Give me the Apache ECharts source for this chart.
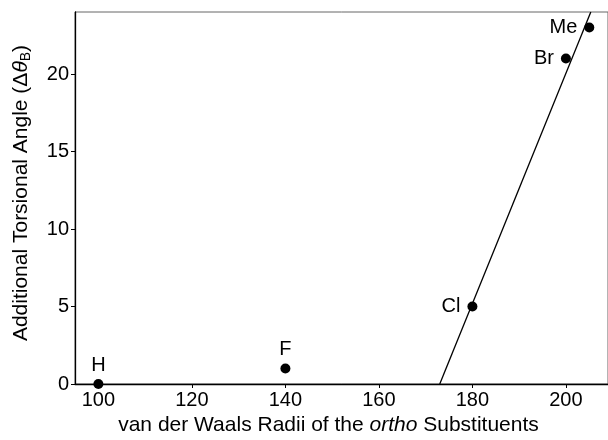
<!DOCTYPE html>
<html>
<head>
<meta charset="UTF-8">
<script src="https://cdn.jsdelivr.net/npm/echarts@6/dist/echarts.min.js"></script>
<style>
  html, body { margin: 0; background: #fff; }
  #chart { width: 608px; height: 440px; }
</style>
</head>
<body>
<div id="chart"></div>
<script>
  var names = ['H', 'F', 'Cl', 'Br', 'Me'];
  var radii = [100, 140, 180, 200, 205];
  var angles = [0, 1, 5, 21, 23];
  var labelPos = ['top', 'top', 'left', 'left', 'left'];
  var xTicks = [100, 120, 140, 160, 180, 200];
  var yTicks = [0, 5, 10, 15, 20];

  // regression through Cl, Br, Me
  var fitX = radii.slice(2), fitY = angles.slice(2);
  var mx = 0, my = 0;
  fitX.forEach(function (v, i) { mx += v; my += fitY[i]; });
  mx /= fitX.length; my /= fitY.length;
  var sxx = 0, sxy = 0;
  fitX.forEach(function (v, i) { sxx += (v - mx) * (v - mx); sxy += (v - mx) * (fitY[i] - my); });
  var slope = sxy / sxx, icpt = my - slope * mx;
  var fitLine = [[(0 - icpt) / slope, 0], [(24 - icpt) / slope, 24]];

  var font = 'Liberation Sans, Arial, sans-serif';
  var fs = 20, nfs = 21;
  var chart = echarts.init(document.getElementById('chart'));
  chart.setOption({
    animation: false,
    grid: {
      left: 75, right: 0, top: 12, bottom: 56, show: true,
      borderColor: '#666', borderWidth: 1, outerBoundsMode: 'none', containLabel: false
    },
    xAxis: {
      type: 'value', min: 95, max: 209,
      name: '{n|van der Waals Radii of the }{i|ortho}{n| Substituents}',
      nameLocation: 'middle', nameGap: 27,
      nameTextStyle: {
        fontSize: nfs, fontFamily: font, color: '#000', padding: [0, 26, 0, 0],
        rich: {
          n: { fontSize: nfs, fontFamily: font, color: '#000' },
          i: { fontSize: nfs, fontFamily: font, fontStyle: 'italic', color: '#000' }
        }
      },
      axisLine: { onZero: false, lineStyle: { color: '#000', width: 1.3 } },
      axisTick: { length: 4, lineStyle: { color: '#000' }, customValues: xTicks },
      axisLabel: { fontSize: fs, fontFamily: font, color: '#000', margin: 6, customValues: xTicks },
      splitLine: { show: false }
    },
    yAxis: {
      type: 'value', min: 0, max: 24,
      name: '{n|Additional Torsional Angle (Δ}{i|θ}{s|B}{n|)}',
      nameLocation: 'middle', nameGap: 42,
      nameTextStyle: {
        fontSize: nfs, fontFamily: font, color: '#000', padding: [0, 0, 0, 10],
        rich: {
          n: { fontSize: nfs, fontFamily: font, color: '#000' },
          i: { fontSize: nfs, fontFamily: font, fontStyle: 'italic', color: '#000' },
          s: { fontSize: 14, fontFamily: font, color: '#000', padding: [10, 0, 0, 0] }
        }
      },
      axisLine: { show: true, lineStyle: { color: '#000', width: 1.3 } },
      axisTick: { length: 4, lineStyle: { color: '#000' }, customValues: yTicks },
      axisLabel: { fontSize: fs, fontFamily: font, color: '#000', margin: 6, customValues: yTicks },
      splitLine: { show: false }
    },
    series: [
      {
        type: 'line', data: fitLine, showSymbol: false, symbol: 'none',
        lineStyle: { color: '#000', width: 1.3 }, z: 2
      },
      {
        type: 'scatter', symbolSize: 10, z: 3,
        itemStyle: { color: '#000', opacity: 1 },
        data: radii.map(function (x, i) {
          return {
            value: [x, angles[i]],
            label: {
              show: true, formatter: names[i], position: labelPos[i],
              distance: labelPos[i] === 'top' ? 4 : 7,
              fontSize: fs, fontFamily: font, color: '#000'
            }
          };
        })
      }
    ]
  });
</script>
</body>
</html>
